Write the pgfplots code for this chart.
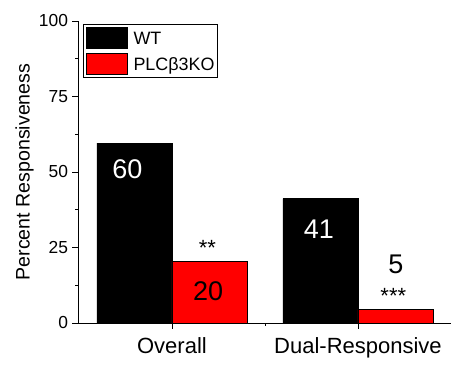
\documentclass[border=0pt]{standalone}
\usepackage{fontspec}
\setmainfont{Liberation Sans}
\usepackage{pgfplots}
\pgfplotsset{compat=1.18}
\begin{document}
\begin{tikzpicture}
\begin{axis}[
  at={(0pt,0pt)}, anchor=south west,
  scale only axis, width=373pt, height=302pt,
  xmin=-0.505, xmax=1.5, ymin=0, ymax=100,
  axis lines*=left,
  axis line style={line width=0.8pt},
  tick align=outside,
  major tick length=5.5pt, minor tick length=2.5pt,
  tick style={line width=0.8pt, black},
  xtick={0,1}, xticklabels={Overall,Dual-Responsive},
  minor xtick={0.5},
  ytick={0,25,50,75,100}, minor ytick={12.5,37.5,62.5,87.5},
  /pgf/number format/assume math mode=true,
  yticklabel style={font=\fontsize{17.4}{20}\selectfont, xshift=-1pt},
  xticklabel style={font=\fontsize{22}{26}\selectfont, yshift=-6pt},
  ylabel={Percent Responsiveness},
  every axis y label/.style={at={(axis description cs:-0.1434,0.5)}, rotate=90, anchor=center,
    font=\fontsize{19.6}{23}\selectfont},
  legend style={at={(axis cs:-0.478,98.9)}, anchor=north west, draw=black, line width=0.8pt,
    font=\fontsize{17.9}{20}\selectfont, inner sep=2.5pt, row sep=4pt, column sep=6pt,
    nodes={inner sep=0pt, text depth=0pt}},
  legend cell align=left,
  legend image code/.code={\draw[#1, line width=0.6pt] (0pt,-10.5pt) rectangle (41pt,10.5pt);},
  clip=false,
]
\addplot[ybar, bar width=0.4032, bar shift=0pt, fill=black, draw=black, line width=0.4pt]
  coordinates {(-0.2016,59.6) (0.7984,41.2)};
\addlegendentry{WT}
\addplot[ybar, bar width=0.4032, bar shift=0pt, fill=red, draw=black, line width=0.6pt]
  coordinates {(0.2016,20.4) (1.2016,4.5)};
\addlegendentry{PLCβ3KO}
\node[text=white, font=\fontsize{27}{30}\selectfont, inner sep=0pt] at (axis cs:-0.239,50.8) {60};
\node[text=white, font=\fontsize{27}{30}\selectfont, inner sep=0pt] at (axis cs:0.790,31.1) {41};
\node[text=black, font=\fontsize{27}{30}\selectfont, inner sep=0pt] at (axis cs:0.194,10.66) {20};
\node[text=black, font=\fontsize{27}{30}\selectfont, inner sep=0pt] at (axis cs:1.204,19.5) {5};
\node[text=black, font=\fontsize{22}{26}\selectfont, inner sep=0pt, anchor=base] at (axis cs:0.191,22.3) {**};
\node[text=black, font=\fontsize{22}{26}\selectfont, inner sep=0pt, anchor=base] at (axis cs:1.19,6.3) {***};
\end{axis}
\path[use as bounding box] (-78pt,-44pt) rectangle (384pt,323pt);
\end{tikzpicture}
\end{document}
